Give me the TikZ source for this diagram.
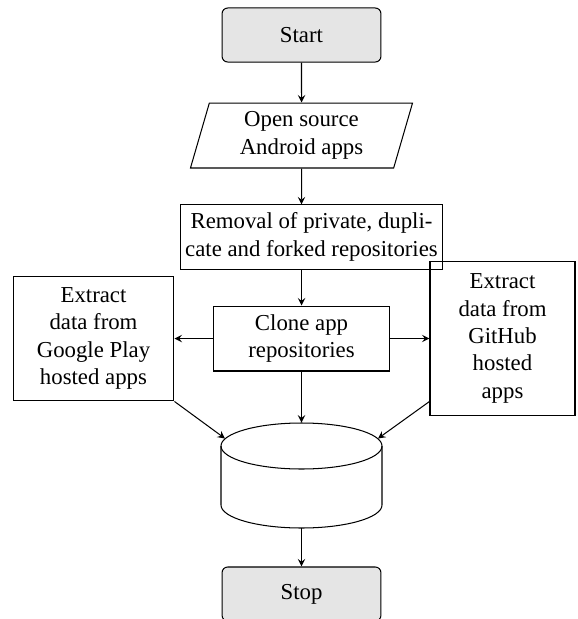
\documentclass[tikz,border=0pt]{standalone}
\usepackage{fontspec}
\setmainfont{Liberation Serif}
\usetikzlibrary{shapes.geometric}

\tikzset{every picture/.style={line width=0.45pt}}
\tikzset{
  startstop/.style={draw, rounded corners=2.5pt, fill=gray!20, minimum width=69.7pt, minimum height=23.7pt, align=center},
  io/.style={draw, trapezium, trapezium left angle=70, trapezium right angle=110, trapezium stretches body, minimum width=97.4pt, minimum height=28.5pt, align=center, inner sep=1pt},
  process/.style={draw, rectangle, align=center, inner sep=1pt},
  line/.style={draw, -stealth}
}

\begin{document}
\begin{tikzpicture}[x=0.4386pt,y=0.4386pt,yscale=-1]
\useasboundingbox (0,0) rectangle (578,619);

% Terminals
\node[startstop] (start) at (301.5,35) {Start};
\node[startstop] (stop) at (301.5,594) {Stop};

% Input
\node[io] (source) at (301.5,135.5) {Open source\\Android apps};

% Process Nodes
\node[process, minimum width=114.5pt, minimum height=28.1pt] (removal) at (311.5,237) {Removal of private, dupli-\\cate and forked repositories};
\node[process, minimum width=76.8pt, minimum height=28.5pt] (clone) at (301.5,338.5) {Clone app\\repositories};
\node[process, minimum width=70.6pt, minimum height=54.8pt] (google) at (93.5,338.5) {Extract\\data from\\Google Play\\hosted apps};
\node[process, minimum width=63.6pt, minimum height=67.5pt] (github) at (502.5,338.5) {Extract\\data from\\GitHub\\hosted\\apps};

% Storage (cylinder)
\node[inner sep=0pt, minimum width=70.6pt, minimum height=46pt] (db) at (301.5,475.5) {};
\draw (301.5,446) ellipse [x radius=80.5, y radius=23];
\draw (221,446) -- (221,505) arc [start angle=180, end angle=0, x radius=80.5, y radius=23] -- (382,446);
\coordinate (dbleft) at (225,438.5);
\coordinate (dbright) at (378,438.5);

% Connections
\draw[line] (start) -- (source);
\draw[line] (source) -- (source.south |- removal.north);
\draw[line] (clone.north |- removal.south) -- (clone);
\draw[line] (clone) -- (google);
\draw[line] (clone) -- (github);
\draw[line] (clone) -- (db);
\draw[line] (google.south east) -- (dbleft);
\draw[line] (github.west |- google.south east) -- (dbright);
\draw[line] (db) -- (stop);

\end{tikzpicture}
\end{document}
